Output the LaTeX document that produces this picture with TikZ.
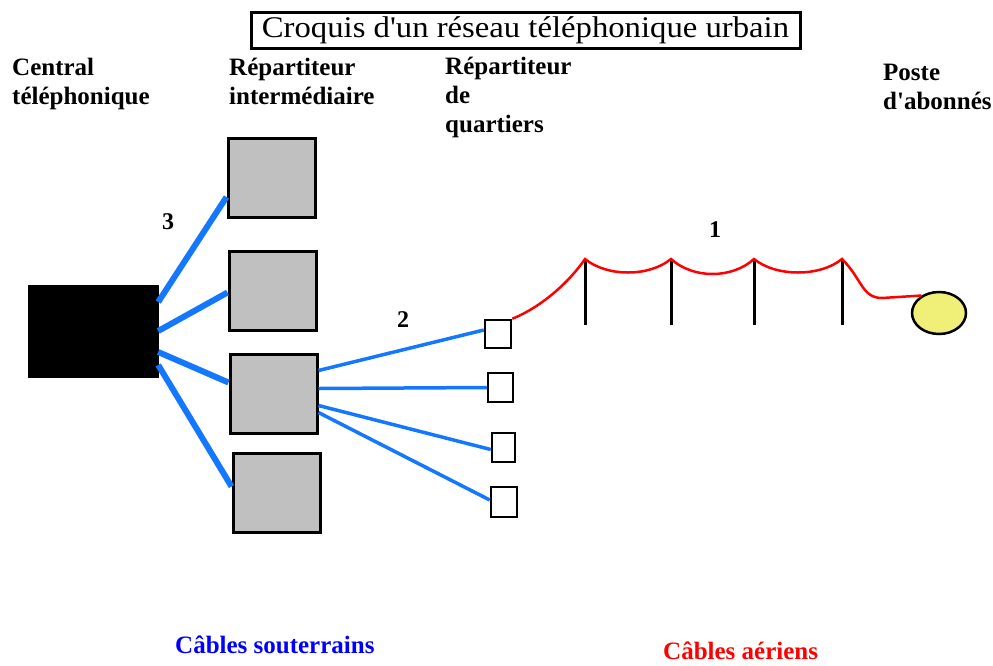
\documentclass[tikz,border=0pt]{standalone}
\usepackage{fontspec}
\setmainfont{Liberation Serif}
\newfontfamily\titlefont[FakeStretch=1.09]{Liberation Serif}
\usetikzlibrary{shapes.geometric}

\definecolor{cableblue}{RGB}{20,120,255}
\definecolor{cablered}{RGB}{255,0,0}
\definecolor{boxgray}{RGB}{192,192,192}
\definecolor{posteyellow}{RGB}{240,240,120}

\begin{document}
\begin{tikzpicture}[
  x=1pt,y=-1pt,
  label/.style={inner sep=0pt,align=left,anchor=base west,
    font=\fontsize{25}{29}\selectfont\bfseries},
  number/.style={inner sep=0pt,font=\fontsize{24}{26}\selectfont\bfseries},
  repbox/.style={draw,line width=3pt,fill=boxgray,minimum width=87pt,minimum height=79pt},
  quartbox/.style={draw,line width=2.5pt,fill=white,minimum width=24pt,minimum height=28pt},
  thickcable/.style={cableblue,line width=6pt},
  thincable/.style={cableblue,line width=3.5pt},
  aircable/.style={cablered,line width=2.5pt},
  pole/.style={line width=3pt}
]
  \useasboundingbox (0,0) rectangle (993,665);

  % title
  \node[draw,line width=3pt,minimum width=549pt,minimum height=36pt,inner sep=0pt,
    font=\titlefont\fontsize{30}{32}\selectfont] (title) at (525.5,30)
    {Croquis d'un réseau téléphonique urbain};

  % column headings (anchor = baseline of the last line)
  \node[label] (central-label) at (12,104) {Central\\téléphonique};
  \node[label] (inter-label) at (229,104) {Répartiteur\\intermédiaire};
  \node[label] (quart-label) at (445,132) {Répartiteur\\de\\quartiers};
  \node[label] (poste-label) at (883,109) {Poste\\d\textquotesingle abonnés};

  % central and distribution frames
  \node[draw,fill=black,minimum width=130pt,minimum height=92pt] (central) at (93,331) {};
  \node[repbox] (inter-1) at (271.5,178) {};
  \node[repbox] (inter-2) at (272.5,290.5) {};
  \node[repbox] (inter-3) at (273.5,393.5) {};
  \node[repbox] (inter-4) at (276.5,492.5) {};

  \node[quartbox,minimum width=26pt] (quart-a) at (498,334) {};
  \node[quartbox,minimum width=25pt,minimum height=29pt] (quart-b) at (500.5,387.5) {};
  \node[quartbox,minimum width=23pt,minimum height=29pt] (quart-c) at (503.5,447.5) {};
  \node[quartbox,minimum width=26pt,minimum height=30pt] (quart-d) at (504,502) {};

  \node[draw,ellipse,line width=2.5pt,fill=posteyellow,minimum width=54pt,minimum height=42pt,
    inner sep=0pt] (poste) at (939,313) {};

  % underground cables
  \draw[thickcable] ([yshift=29pt]central.east) -- ([yshift=-19pt]inter-1.west);
  \draw[thickcable] (central.east) -- ([yshift=-2pt]inter-2.west);
  \draw[thickcable] ([yshift=-21pt]central.east) -- ([yshift=11pt]inter-3.west);
  \draw[thickcable] ([yshift=-34pt]central.east) -- ([yshift=6pt]inter-4.west);

  \draw[thincable] ([yshift=23pt]inter-3.east) -- ([yshift=4pt]quart-a.west);
  \draw[thincable] ([yshift=5pt]inter-3.east) -- (quart-b.west);
  \draw[thincable] ([yshift=-12pt]inter-3.east) -- ([yshift=-2pt]quart-c.west);
  \draw[thincable] ([yshift=-19pt]inter-3.east) -- ([yshift=2pt]quart-d.west);

  % poles
  \coordinate (pole-1) at (585,259);
  \coordinate (pole-2) at (671,259);
  \coordinate (pole-3) at (754,259);
  \coordinate (pole-4) at (842,259);
  \foreach \p in {1,...,4}
    \draw[pole] (pole-\p) -- ++(0,66);

  % overhead cable
  \draw[aircable] (quart-a.north east)
    .. controls +(30,-12) and +(-15,22) .. (pole-1)
    .. controls +(22,18) and +(-22,18) .. (pole-2)
    .. controls +(22,20) and +(-22,20) .. (pole-3)
    .. controls +(22,18) and +(-22,18) .. (pole-4)
    .. controls +(20,20) and +(-20,0) .. (882,298)
    -- (poste.135);

  % numbers
  \node[number] (num-3) at (168,222) {3};
  \node[number] (num-2) at (403,320) {2};
  \node[number] (num-1) at (715,230) {1};

  % cable types
  \node[label,text=blue] (souterrains) at (175,653) {Câbles souterrains};
  \node[label,text=cablered] (aeriens) at (663,659) {Câbles aériens};
\end{tikzpicture}
\end{document}
